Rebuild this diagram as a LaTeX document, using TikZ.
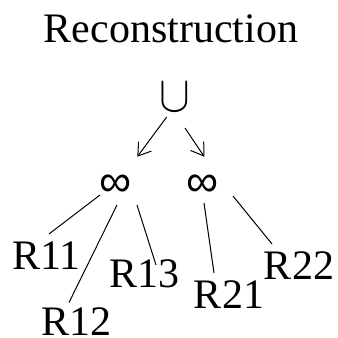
\documentclass[tikz,border=0pt]{standalone}
\usepackage{graphicx}
\usepackage{fontspec}
\setmainfont{Liberation Serif}
\newfontfamily\symfont{Liberation Sans}
\usetikzlibrary{arrows.meta}

\begin{document}
\begin{tikzpicture}[
  x=1pt, y=1pt,
  rel/.style={font=\fontsize{42}{42}\selectfont, inner sep=0pt, anchor=base},
  joinop/.style={font=\symfont\fontsize{45}{45}\selectfont, inner sep=0pt, anchor=center},
  link/.style={line width=1pt},
  flow/.style={line width=1pt, -{Straight Barb[length=12pt,width=16pt,line width=1pt]}}
]
\useasboundingbox (0,0) rectangle (338,338);

\node (title) [rel] at (171,295) {Reconstruction};
\node (union) [inner sep=0pt, anchor=center, font=\Huge] at (175,240.5) {\scalebox{1.85}[2.05]{$\cup$}};

\node (infA) [joinop] at (116,152) {∞};
\node (infB) [joinop] at (202.5,152) {∞};

\node (r11) [rel] at (46.5,68) {R11};
\node (r12) [rel] at (76.5,2.5) {R12};
\node (r13) [rel] at (144.5,50) {R13};
\node (r21) [rel] at (229,29) {R21};
\node (r22) [rel] at (299,58) {R22};

\draw [flow] ([shift={(-8.3,-19.5)}]union.center) -- ([shift={(21.3,29.3)}]infA.center);
\draw [flow] ([shift={(10,-30.5)}]union.center) -- ([shift={(1.8,29.3)}]infB.center);

\draw [link] ([shift={(-16,-9)}]infA.center) -- ([shift={(2.5,36)}]r11.base);
\draw [link] ([shift={(1,-19)}]infA.center) -- ([shift={(-7.5,33)}]r12.base);
\draw [link] ([shift={(21,-19)}]infA.center) -- ([shift={(11.5,23)}]r13.base);
\draw [link] ([shift={(1.5,-17)}]infB.center) -- ([shift={(-15,36)}]r21.base);
\draw [link] ([shift={(30.5,-10)}]infB.center) -- ([shift={(-27,36)}]r22.base);

\end{tikzpicture}
\end{document}
